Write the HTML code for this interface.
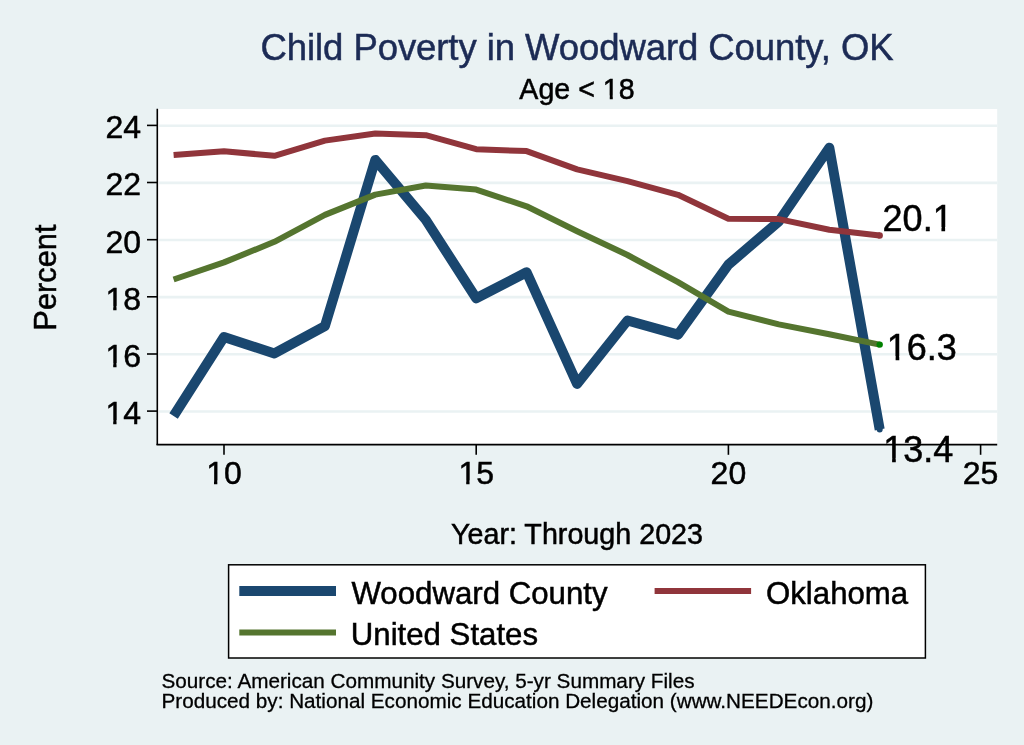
<!DOCTYPE html>
<html><head><meta charset="utf-8"><style>
html,body{margin:0;padding:0;background:#eaf2f3;}
svg{display:block;will-change:transform;}
text{font-family:"Liberation Sans", sans-serif;fill:#000;stroke:#000;stroke-width:0.5px;}
</style></head><body>
<svg width="1024" height="745" viewBox="0 0 1024 745">
<rect x="0" y="0" width="1024" height="745" fill="#eaf2f3"/>
<rect x="157.3" y="109" width="839.9" height="335.3" fill="#fff"/>
<line x1="159" y1="411.45" x2="997.2" y2="411.45" stroke="#eaf2f3" stroke-width="2.6"/>
<line x1="159" y1="354.31" x2="997.2" y2="354.31" stroke="#eaf2f3" stroke-width="2.6"/>
<line x1="159" y1="297.17" x2="997.2" y2="297.17" stroke="#eaf2f3" stroke-width="2.6"/>
<line x1="159" y1="240.03" x2="997.2" y2="240.03" stroke="#eaf2f3" stroke-width="2.6"/>
<line x1="159" y1="182.89" x2="997.2" y2="182.89" stroke="#eaf2f3" stroke-width="2.6"/>
<line x1="159" y1="125.75" x2="997.2" y2="125.75" stroke="#eaf2f3" stroke-width="2.6"/>

<polyline points="173.6,416.0 224.0,337.0 274.4,353.4 324.9,326.1 375.3,159.9 425.8,219.9 476.2,298.2 526.6,272.2 577.1,383.9 627.5,320.5 678.0,334.6 728.4,264.6 778.8,221.5 829.3,147.7 879.7,429.5" fill="none" stroke="#1a476f" stroke-width="10" stroke-linejoin="round" stroke-linecap="butt"/>
<circle cx="879.7" cy="429.5" r="3" fill="#1a476f"/>
<polyline points="173.6,155.0 224.0,151.2 274.4,155.8 324.9,140.6 375.3,133.5 425.8,135.2 476.2,149.2 526.6,151.1 577.1,169.4 627.5,181.1 678.0,194.8 728.4,218.7 778.8,219.1 829.3,229.7 879.7,235.5" fill="none" stroke="#90353b" stroke-width="6" stroke-linejoin="round" stroke-linecap="butt"/>
<circle cx="879.7" cy="235.5" r="3.2" fill="#90353b"/>
<polyline points="173.6,279.5 224.0,262.4 274.4,241.8 324.9,214.9 375.3,194.6 425.8,185.5 476.2,189.6 526.6,206.3 577.1,231.2 627.5,255.0 678.0,282.2 728.4,311.7 778.8,324.4 829.3,334.2 879.7,344.6" fill="none" stroke="#55752f" stroke-width="6" stroke-linejoin="round" stroke-linecap="butt"/>
<circle cx="879.7" cy="344.6" r="3.2" fill="#008000"/>
<line x1="157.3" y1="108.8" x2="157.3" y2="445.1" stroke="#000" stroke-width="1.6"/>
<line x1="156.5" y1="444.6" x2="997.2" y2="444.6" stroke="#000" stroke-width="1.6"/>
<line x1="147" y1="411.1" x2="157.3" y2="411.1" stroke="#000" stroke-width="1.6"/>
<text x="141" y="423.9" text-anchor="end" font-size="32">14</text>
<line x1="147" y1="354.0" x2="157.3" y2="354.0" stroke="#000" stroke-width="1.6"/>
<text x="141" y="366.8" text-anchor="end" font-size="32">16</text>
<line x1="147" y1="296.8" x2="157.3" y2="296.8" stroke="#000" stroke-width="1.6"/>
<text x="141" y="309.6" text-anchor="end" font-size="32">18</text>
<line x1="147" y1="239.7" x2="157.3" y2="239.7" stroke="#000" stroke-width="1.6"/>
<text x="141" y="252.5" text-anchor="end" font-size="32">20</text>
<line x1="147" y1="182.5" x2="157.3" y2="182.5" stroke="#000" stroke-width="1.6"/>
<text x="141" y="195.3" text-anchor="end" font-size="32">22</text>
<line x1="147" y1="125.4" x2="157.3" y2="125.4" stroke="#000" stroke-width="1.6"/>
<text x="141" y="138.2" text-anchor="end" font-size="32">24</text>

<line x1="224.0" y1="444.3" x2="224.0" y2="454.8" stroke="#000" stroke-width="1.6"/>
<text x="224.0" y="484.2" text-anchor="middle" font-size="32">10</text>
<line x1="476.2" y1="444.3" x2="476.2" y2="454.8" stroke="#000" stroke-width="1.6"/>
<text x="476.2" y="484.2" text-anchor="middle" font-size="32">15</text>
<line x1="728.4" y1="444.3" x2="728.4" y2="454.8" stroke="#000" stroke-width="1.6"/>
<text x="728.4" y="484.2" text-anchor="middle" font-size="32">20</text>
<line x1="980.6" y1="444.3" x2="980.6" y2="454.8" stroke="#000" stroke-width="1.6"/>
<text x="980.6" y="484.2" text-anchor="middle" font-size="32">25</text>

<text x="577" y="60" text-anchor="middle" font-size="36.5" letter-spacing="-0.075" style="fill:#1c2b55;stroke:#1c2b55">Child Poverty in Woodward County, OK</text>
<text x="577" y="99" text-anchor="middle" font-size="28.6">Age &lt; 18</text>
<text x="577" y="544.3" text-anchor="middle" font-size="28.7">Year: Through 2023</text>
<text transform="translate(55.8,277.6) rotate(-90)" x="0" y="0" text-anchor="middle" font-size="30.8">Percent</text>
<text x="882.6" y="231" font-size="36">20.1</text>
<text x="886.8" y="360.3" font-size="36">16.3</text>
<text x="883.3" y="461.9" font-size="36">13.4</text>
<rect x="228.6" y="564.8" width="696.8" height="93.2" fill="#fff" stroke="#000" stroke-width="1.5"/>
<line x1="239.3" y1="591" x2="336" y2="591" stroke="#1a476f" stroke-width="10"/>
<line x1="654.6" y1="591" x2="751.1" y2="591" stroke="#90353b" stroke-width="6"/>
<line x1="239.3" y1="632.4" x2="336" y2="632.4" stroke="#55752f" stroke-width="6"/>
<text x="351.5" y="604" font-size="31.2">Woodward County</text>
<text x="766" y="603.6" font-size="31.2">Oklahoma</text>
<text x="350.8" y="644.8" font-size="31.2">United States</text>
<text x="161.5" y="688.4" font-size="20.7" style="stroke-width:0.3px">Source: American Community Survey, 5-yr Summary Files</text>
<text x="161.5" y="708.1" font-size="20.7" style="stroke-width:0.3px">Produced by: National Economic Education Delegation (www.NEEDEcon.org)</text>
<rect x="106.34" y="420.21" width="6.86" height="5.29" fill="#eaf2f3"/>
<rect x="116.53" y="420.21" width="6.61" height="5.29" fill="#eaf2f3"/>
<rect x="106.34" y="363.11" width="6.86" height="5.29" fill="#eaf2f3"/>
<rect x="116.53" y="363.11" width="6.61" height="5.29" fill="#eaf2f3"/>
<rect x="106.34" y="305.91" width="6.86" height="5.29" fill="#eaf2f3"/>
<rect x="116.53" y="305.91" width="6.61" height="5.29" fill="#eaf2f3"/>
<rect x="207.14" y="480.51" width="6.86" height="5.29" fill="#eaf2f3"/>
<rect x="217.33" y="480.51" width="6.61" height="5.29" fill="#eaf2f3"/>
<rect x="459.34" y="480.51" width="6.86" height="5.29" fill="#eaf2f3"/>
<rect x="469.53" y="480.51" width="6.61" height="5.29" fill="#eaf2f3"/>
<rect x="603.49" y="95.56" width="6.26" height="5.04" fill="#eaf2f3"/>
<rect x="612.78" y="95.56" width="6.04" height="5.04" fill="#eaf2f3"/>
<rect x="933.87" y="227.01" width="7.56" height="5.59" fill="#fff"/>
<rect x="945.12" y="227.01" width="7.28" height="5.59" fill="#fff"/>
<rect x="888.04" y="356.31" width="7.56" height="5.59" fill="#fff"/>
<rect x="899.28" y="356.31" width="7.28" height="5.59" fill="#fff"/>
<rect x="884.54" y="457.91" width="7.56" height="5.59" fill="#eaf2f3"/>
<rect x="895.78" y="457.91" width="7.28" height="5.59" fill="#eaf2f3"/>
</svg>
</body></html>
